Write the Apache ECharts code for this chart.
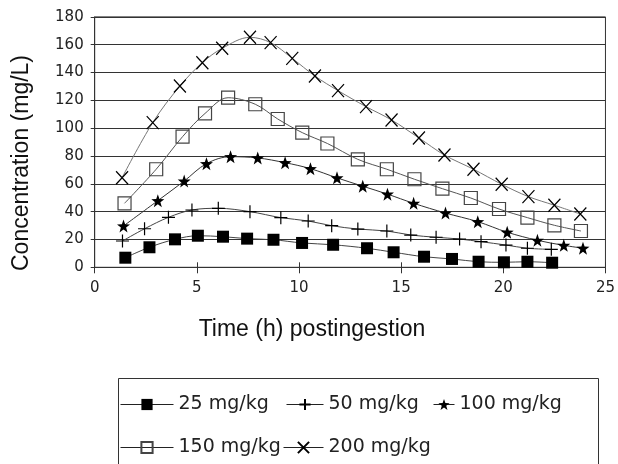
<!DOCTYPE html>
<html>
<head>
<meta charset="utf-8">
<script src="https://cdn.jsdelivr.net/npm/echarts@6/dist/echarts.min.js"></script>
<style>html,body{margin:0;padding:0;background:#fff;}#c{width:618px;height:464px;}</style>
</head>
<body>
<div id="c"></div>
<script>
// Time (h) and concentration (mg/L) for each dose
const seriesNames = ['25 mg/kg', '50 mg/kg', '100 mg/kg', '150 mg/kg', '200 mg/kg'];

const t25 = [1.50, 2.68, 3.93, 5.05, 6.28, 7.46, 8.75, 10.15, 11.67, 13.33, 14.63, 16.12, 17.49, 18.79, 20.03, 21.18, 22.39];
const c25 = [6.9, 14.4, 20.1, 22.7, 22.0, 20.6, 19.8, 17.5, 16.2, 13.7, 10.8, 7.6, 6.0, 4.0, 3.6, 4.0, 3.3];

const t50 = [1.36, 2.44, 3.61, 4.76, 6.05, 7.60, 9.11, 10.45, 11.60, 12.88, 14.30, 15.47, 16.71, 17.86, 18.91, 20.13, 21.18, 22.35];
const c50 = [18.9, 27.7, 35.9, 41.2, 42.4, 40.0, 35.7, 33.3, 29.9, 27.5, 26.1, 23.2, 21.6, 20.3, 18.4, 16.0, 13.7, 12.9];

const t100 = [1.41, 3.09, 4.38, 5.47, 6.65, 7.98, 9.32, 10.56, 11.86, 13.12, 14.33, 15.61, 17.17, 18.75, 20.19, 21.67, 22.96, 23.90];
const c100 = [29.7, 47.9, 62.0, 74.5, 79.5, 78.6, 75.2, 70.9, 64.3, 58.3, 52.6, 46.0, 39.0, 32.8, 25.2, 19.4, 15.8, 13.7];

const t150 = [1.46, 3.01, 4.30, 5.40, 6.53, 7.86, 8.96, 10.16, 11.39, 12.88, 14.30, 15.65, 17.02, 18.41, 19.79, 21.18, 22.50, 23.80];
const c150 = [46.0, 70.5, 93.9, 110.6, 121.9, 117.2, 106.6, 96.8, 89.0, 77.6, 70.5, 63.3, 56.5, 49.8, 41.9, 35.7, 30.2, 26.1];

const t200 = [1.34, 2.84, 4.17, 5.27, 6.24, 7.60, 8.61, 9.67, 10.78, 11.91, 13.28, 14.53, 15.87, 17.12, 18.54, 19.92, 21.23, 22.50, 23.77];
const c200 = [64.4, 104.0, 130.3, 147.1, 157.4, 165.3, 161.5, 150.2, 137.5, 127.0, 115.5, 105.9, 93.0, 80.7, 70.5, 59.7, 50.8, 44.6, 38.3];

const xTicks = [0, 5, 10, 15, 20, 25];
const yTicks = [0, 20, 40, 60, 80, 100, 120, 140, 160, 180];

function pairs(t, c) { return t.map((v, i) => [v, c[i]]); }

const STAR = 'path://M50,0 L61.76,33.82 L97.55,34.55 L69.02,56.18 L79.39,90.45 L50,70 L20.61,90.45 L30.98,56.18 L2.45,34.55 L38.24,33.82 Z';
const PLUS = 'path://M0,6L12,6M6,0L6,12';
const CROSS = 'path://M0,0L10,12M10,0L0,12';

const chart = echarts.init(document.getElementById('c'), null, {renderer: 'canvas'});

const tickFont = {fontFamily: 'DejaVu Sans', fontSize: 15, color: '#222'};
const legendFont = {fontFamily: 'DejaVu Sans', fontSize: 19, color: '#222'};

function legend(name, left, top, w) {
  return {
    data: [name], left: left, top: top, itemWidth: w, itemHeight: 14,
    selectedMode: false, padding: 0, textStyle: legendFont,
    lineStyle: {color: '#222', width: 1}
  };
}

chart.setOption({
  animation: false,
  backgroundColor: '#fff',
  grid: {left: 94.7, right: 8.5, top: 16.9, bottom: 196.7, show: true, borderColor: '#333', borderWidth: 1, backgroundColor: 'transparent'},
  xAxis: [{
    type: 'value', min: xTicks[0], max: xTicks[xTicks.length - 1], interval: 5,
    axisLine: {show: true, lineStyle: {color: '#333', width: 1}},
    axisTick: {show: true, inside: false, length: 6, lineStyle: {color: '#333'}},
    axisLabel: Object.assign({margin: 13}, tickFont),
    splitLine: {show: false}
  }, {
    type: 'value', min: xTicks[0], max: xTicks[xTicks.length - 1], interval: 5, position: 'bottom',
    axisLine: {show: false},
    axisTick: {show: true, inside: true, length: 5, lineStyle: {color: '#333'}},
    axisLabel: {show: false},
    splitLine: {show: false}
  }],
  yAxis: {
    type: 'value', min: yTicks[0], max: yTicks[yTicks.length - 1], interval: 20,
    axisLine: {show: true, lineStyle: {color: '#333', width: 1}},
    axisTick: {show: true, inside: false, length: 4, lineStyle: {color: '#333'}},
    axisLabel: Object.assign({margin: 11}, tickFont),
    splitLine: {show: true, lineStyle: {color: '#333', width: 1}}
  },
  legend: [
    legend(seriesNames[0], 120, 395, 53),
    legend(seriesNames[1], 286, 395, 37),
    legend(seriesNames[2], 433, 395, 21),
    legend(seriesNames[3], 120, 438, 53),
    legend(seriesNames[4], 283, 438, 40)
  ],
  graphic: [
    {type: 'rect', silent: true, shape: {x: 118.5, y: 378.5, width: 480, height: 100}, style: {fill: 'none', stroke: '#333', lineWidth: 1}},
    {type: 'text', silent: true, x: 312, y: 330, style: {text: 'Time (h) postingestion', font: '23px "Liberation Sans", Arial, sans-serif', fill: '#111', align: 'center', verticalAlign: 'middle'}},
    {type: 'text', silent: true, x: 22, y: 163, rotation: Math.PI / 2, style: {text: 'Concentration (mg/L)', font: '23px "Liberation Sans", Arial, sans-serif', fill: '#111', align: 'center', verticalAlign: 'middle'}}
  ],
  series: [
    {name: seriesNames[0], type: 'line', smooth: 0.35, data: pairs(t25, c25), symbol: 'rect', symbolSize: 12,
     itemStyle: {color: '#000', borderColor: '#000', borderWidth: 0}, lineStyle: {color: '#444', width: 1}},
    {name: seriesNames[1], type: 'line', smooth: 0.35, data: pairs(t50, c50), symbol: PLUS, symbolSize: 13,
     itemStyle: {color: 'rgba(0,0,0,0)', borderColor: '#000', borderWidth: 1.2}, lineStyle: {color: '#444', width: 1}},
    {name: seriesNames[2], type: 'line', smooth: 0.35, data: pairs(t100, c100), symbol: STAR, symbolSize: 13,
     itemStyle: {color: '#000', borderColor: '#000', borderWidth: 0}, lineStyle: {color: '#333', width: 1}},
    {name: seriesNames[3], type: 'line', smooth: 0.35, data: pairs(t150, c150), symbol: 'rect', symbolSize: 13,
     itemStyle: {color: 'rgba(0,0,0,0)', borderColor: '#444', borderWidth: 1.2}, lineStyle: {color: '#555', width: 1}},
    {name: seriesNames[4], type: 'line', smooth: 0.35, data: pairs(t200, c200), symbol: CROSS, symbolSize: [12, 13],
     itemStyle: {color: 'rgba(0,0,0,0)', borderColor: '#000', borderWidth: 1.3}, lineStyle: {color: '#777', width: 1}}
  ]
});
</script>
</body>
</html>
